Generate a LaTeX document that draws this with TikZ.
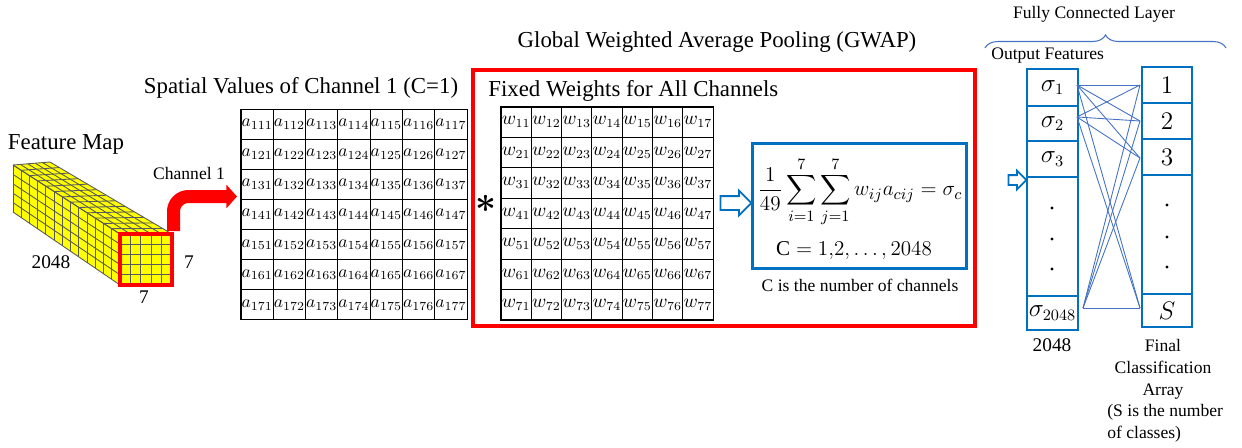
\documentclass[tikz,border=0pt]{standalone}
\usepackage{amsmath}
\usepackage{fontspec}
\setmainfont{Liberation Serif}
\usetikzlibrary{calc, arrows.meta, shapes.arrows, decorations.pathreplacing}

\definecolor{gwapred}{RGB}{255,0,0}
\definecolor{boxblue}{RGB}{0,112,192}
\definecolor{fcblue}{RGB}{68,114,196}
\definecolor{cubeyellow}{RGB}{255,255,0}
\definecolor{gridgray}{RGB}{90,90,90}

\tikzset{
  acell/.style={draw, line width=0.6pt, minimum width=0.646cm, minimum height=0.602cm, inner sep=0pt, font=\fontsize{10}{11}\selectfont},
  wcell/.style={draw, line width=0.6pt, minimum width=0.606cm, minimum height=0.608cm, inner sep=0pt, font=\fontsize{10.5}{11}\selectfont},
  title/.style={font=\fontsize{13}{15}\selectfont, inner sep=0pt},
  small/.style={font=\fontsize{10}{12.5}\selectfont, inner sep=0pt},
  colcell/.style={draw=boxblue, line width=1.1pt, inner sep=0pt, font=\fontsize{13.5}{15}\selectfont},
  hollow/.style={single arrow, draw=boxblue, fill=white, line width=1pt, single arrow head indent=0pt, inner xsep=0pt},
  fcline/.style={fcblue, line width=0.5pt},
  cubegrid/.style={gridgray, line width=0.5pt}
}

\begin{document}
\begin{tikzpicture}[x=0.02cm, y=-0.02cm]
\useasboundingbox (0,0) rectangle (1242,447);

\coordinate (bk1) at (13,165);
\coordinate (bk2) at (50,162);
\coordinate (bk4) at (13,212);
\coordinate (fr1) at (120,234);
\coordinate (fr2) at (172,234);
\coordinate (fr3) at (172,285);
\coordinate (fr4) at (120,285);
\fill[cubeyellow] (bk1)--(bk2)--(fr2)--(fr1)--cycle;
\fill[cubeyellow] (bk1)--(fr1)--(fr4)--(bk4)--cycle;
\fill[cubeyellow] (fr1) rectangle (fr3);
\foreach \k in {0,...,13} {
  \pgfmathsetmacro\t{\k/13}
  \draw[cubegrid] ($(bk1)!\t!(fr1)$) -- ($(bk2)!\t!(fr2)$);
  \draw[cubegrid] ($(bk1)!\t!(fr1)$) -- ($(bk4)!\t!(fr4)$);
}
\foreach \k in {0,...,5} {
  \pgfmathsetmacro\s{\k/5}
  \draw[cubegrid] ($(bk1)!\s!(bk2)$) -- ($(fr1)!\s!(fr2)$);
  \draw[cubegrid] ($(bk1)!\s!(bk4)$) -- ($(fr1)!\s!(fr4)$);
  \draw[cubegrid] ($(fr1)!\s!(fr2)$) -- ($(fr4)!\s!(fr3)$);
  \draw[cubegrid] ($(fr1)!\s!(fr4)$) -- ($(fr2)!\s!(fr3)$);
}
\draw[gwapred, line width=2.7pt] (fr1) rectangle (fr3);

\node[title, anchor=base] (fmap) at (66,149) {Feature Map};
\node[font=\fontsize{11}{13}\selectfont, inner sep=0pt, anchor=base] (depth) at (51,268) {2048};
\node[font=\fontsize{11}{13}\selectfont, inner sep=0pt, anchor=base] (hgt) at (189,268) {7};
\node[font=\fontsize{11}{13}\selectfont, inner sep=0pt, anchor=base] (wid) at (144,303) {7};
\node[small, anchor=base] (chan) at (189,179) {Channel 1};

\coordinate (chstart) at (173.5,231);
\coordinate (chend) at (237,196.5);
\draw[gwapred, line width=7.4pt, rounded corners=0.3cm, -{Triangle[length=6pt, width=13pt]}] (chstart) |- (chend);

\node[title, anchor=base] (spatial) at (301,93) {Spatial Values of Channel 1 (C=1)};
\foreach \row in {1,...,7}
  \foreach \col in {1,...,7}
    \node[acell] (a\row\col) at ({241+(\col-0.5)*32.29},{109+(\row-0.5)*30.14}) {$a_{1\row\col}$};

\node[title, anchor=base] (gwap) at (717,47) {Global Weighted Average Pooling (GWAP)};
\draw[gwapred, line width=2.3pt] (473,70) rectangle (975,326);
\node[title, anchor=base west] (fixed) at (488,96) {Fixed Weights for All Channels};
\node[inner sep=0pt, font=\fontsize{20}{20}\selectfont] (star) at (486,204) {$\boldsymbol{\ast}$};
\foreach \row in {1,...,7}
  \foreach \col in {1,...,7}
    \node[wcell] (w\row\col) at ({501+(\col-0.5)*30.29},{107+(\row-0.5)*30.43}) {$w_{\row\col}$};

\node[hollow, minimum height=0.62cm, inner ysep=0.12cm, single arrow head extend=0.11cm] (arr1) at (732.5,203) {};
\draw[boxblue, line width=1.5pt] (752.5,143.5) rectangle (966.5,268.5);
\node[inner sep=0pt, font=\fontsize{12.5}{15}\selectfont] (sum) at (860,192) {$\displaystyle\frac{1}{49}\sum_{i=1}^{7}\sum_{j=1}^{7}w_{ij}a_{cij}=\sigma_c$};
\node[inner sep=0pt, font=\fontsize{12}{14}\selectfont, anchor=base] (crange) at (854,255) {$\mathrm{C}=1{,}2,\ldots,2048$};
\node[small, anchor=base] (cnote) at (860,291) {C is the number of channels};

\node[hollow, minimum height=0.36cm, inner ysep=0.08cm, single arrow head extend=0.09cm] (arr2) at (1015,180) {};

\node[small, anchor=base] (fcl) at (1094,18) {Fully Connected Layer};
\draw[fcblue, line width=0.6pt, decorate, decoration={brace, amplitude=0.26cm}] (985,48) -- (1226,48);
\node[small, anchor=base west] (outf) at (991,59) {Output Features};

\node[colcell, minimum width=1.02cm, minimum height=0.74cm] (out1) at (1052.5,87.5) {$\sigma_1$};
\node[colcell, minimum width=1.02cm, minimum height=0.70cm] (out2) at (1052.5,123.5) {$\sigma_2$};
\node[colcell, minimum width=1.02cm, minimum height=0.72cm] (out3) at (1052.5,159) {$\sigma_3$};
\node[colcell, minimum width=1.02cm, minimum height=2.38cm] (outd) at (1052.5,236.5) {};
\node[colcell, minimum width=1.02cm, minimum height=0.68cm] (outN) at (1052.5,313) {$\sigma_{2048}$};
\foreach \y in {208,239,269} \fill (1052,\y) circle (0.9pt);
\node[font=\fontsize{11}{13}\selectfont, inner sep=0pt, anchor=base] (outcount) at (1052,351) {2048};

\node[colcell, minimum width=1.0cm, minimum height=0.72cm] (cls1) at (1167,85) {$1$};
\node[colcell, minimum width=1.0cm, minimum height=0.72cm] (cls2) at (1167,121) {$2$};
\node[colcell, minimum width=1.0cm, minimum height=0.72cm] (cls3) at (1167,157) {$3$};
\node[colcell, minimum width=1.0cm, minimum height=2.38cm] (clsd) at (1167,234.5) {};
\node[colcell, minimum width=1.0cm, minimum height=0.66cm] (clsS) at (1167,310.5) {$S$};
\foreach \y in {205,237,267} \fill (1167,\y) circle (0.9pt);
\node[small, align=center, anchor=north] (final) at (1163,339) {Final\\Classification\\Array};
\node[small, align=left, anchor=north west] (snote) at (1107,404) {(S is the number\\of classes)};

\coordinate (p1) at (1077,85);
\coordinate (p2) at (1077,117);
\coordinate (pN) at (1083,308);
\coordinate (q1) at (1140,85);
\coordinate (q2) at (1140,121);
\coordinate (q3) at (1140,158);
\coordinate (qS) at (1140,308);
\foreach \s in {p1,p2,pN}
  \foreach \t in {q1,q2,q3,qS}
    \draw[fcline] (\s) -- (\t);
\end{tikzpicture}
\end{document}
